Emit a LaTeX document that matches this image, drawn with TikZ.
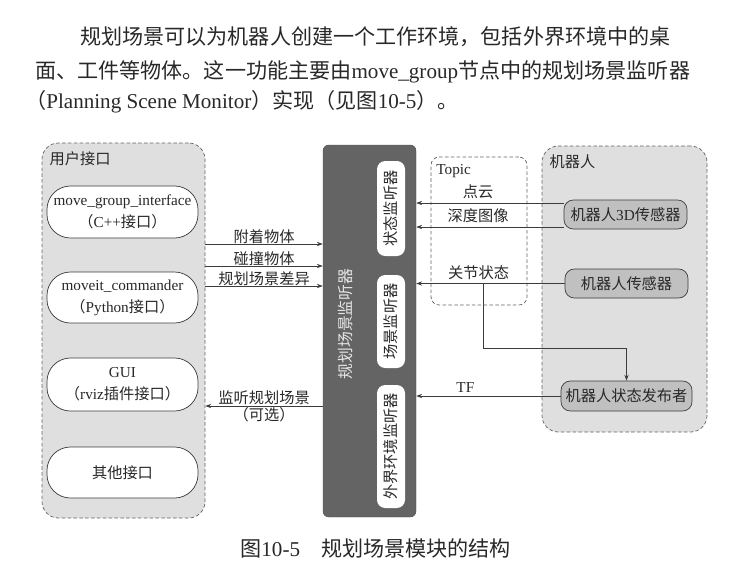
\documentclass[tikz,border=0pt]{standalone}
\usepackage{fontspec}
\setmainfont{Noto Sans CJK SC}
\newfontfamily\lat{Liberation Serif}
\usetikzlibrary{arrows.meta}
\XeTeXlinebreaklocale "zh"
\XeTeXlinebreakskip=0pt plus 3pt
\definecolor{cpanel}{RGB}{223,223,223}
\definecolor{cmon}{RGB}{100,100,100}
\definecolor{cdev}{RGB}{192,192,192}
\definecolor{cline}{RGB}{60,60,60}
\definecolor{ctext}{RGB}{40,40,40}
\newcommand{\diagfont}{\fontsize{13}{19}\selectfont}

\tikzset{
  panel/.style={draw=cline!80, dash pattern=on 3pt off 2pt, fill=cpanel,
    rounded corners=14pt, line width=0.6pt},
  iface/.style={draw=cline, fill=white, rounded corners=20pt, line width=0.6pt,
    align=center, font=\diagfont, text=ctext, inner sep=0pt, minimum width=4.53cm},
  monbox/.style={fill=white, rounded corners=7pt, rotate=90, inner sep=0pt,
    minimum height=0.84cm, font=\diagfont, text=ctext},
  devbox/.style={draw=cline, fill=cdev, rounded corners=8pt, line width=0.6pt,
    inner sep=0pt, minimum height=0.87cm, font=\diagfont, text=ctext},
  link/.style={->, cline, line width=0.6pt},
  lab/.style={font=\diagfont, text=ctext, inner sep=1pt},
  bodytext/.style={font=\fontsize{18}{22}\selectfont, text=ctext, inner sep=0pt},
}

\begin{document}
\begin{tikzpicture}[>={Stealth[length=5pt, width=3.6pt]}]
\useasboundingbox (0,0) rectangle (22.44,-17.25);
% text above the figure
\node[bodytext, anchor=west] (line1) at (2.4,-1.11)
  {\makebox[19.14cm][s]{规划场景可以为机器人创建一个工作环境，包括外界环境中的桌}};
\node[bodytext, anchor=west] (line2) at (1.05,-2.16)
  {\makebox[20.49cm][s]{面、工件等物体。这一功能主要由{\lat move\_group}节点中的规划场景监听器}};
\node[bodytext, anchor=west] (line3) at (0.75,-3.06)
  {（{\lat Planning Scene Monitor}）实现（见图{\lat 10-5}）。};

% groups
\node[panel, minimum width=4.89cm, minimum height=11.25cm] (userif) at (3.705,-9.915) {};
\node[lab, anchor=west] (userlab) at (1.45,-4.77) {用户接口};
\node[panel, minimum width=4.95cm, minimum height=8.58cm] (robot) at (18.735,-8.67) {};
\node[lab, anchor=west] (robotlab) at (16.45,-4.86) {机器人};
\node[panel, fill=white, rounded corners=7pt, minimum width=2.88cm,
  minimum height=4.44cm] (topic) at (14.37,-6.93) {};
\node[lab, anchor=west] (topiclab) at (13.05,-5.13) {\lat Topic};

% planning scene monitor
\node[fill=cmon, draw=cmon!80!black, rounded corners=5pt, minimum width=2.79cm,
  minimum height=11.16cm] (psm) at (11.085,-9.93) {};
\node[rotate=90, font=\fontsize{13.5}{16}\selectfont, text=white!80!gray]
  (psmlab) at (10.35,-9.72) {规划场景监听器};
\node[monbox, minimum width=2.85cm] (statemon) at (11.73,-6.255) {状态监听器};
\node[monbox, minimum width=2.79cm] (scenemon) at (11.73,-9.645) {场景监听器};
\node[monbox, minimum width=3.69cm] (worldmon) at (11.73,-13.395) {外界环境监听器};

% user interfaces
\node[iface, minimum height=1.56cm] (mgi) at (3.675,-6.36)
  {{\lat move\_group\_interface}\\（{\lat C++}接口）};
\node[iface, minimum height=1.53cm] (commander) at (3.675,-8.925)
  {{\lat moveit\_commander}\\（{\lat Python}接口）};
\node[iface, minimum height=1.59cm] (gui) at (3.675,-11.535)
  {{\lat GUI}\\（{\lat rviz}插件接口）};
\node[iface, minimum height=1.53cm] (other) at (3.675,-14.175) {其他接口};

% robot side
\node[devbox, minimum width=3.69cm] (sensor3d) at (18.765,-6.435) {机器人{\lat 3D}传感器};
\node[devbox, minimum width=3.69cm] (sensor) at (18.795,-8.505) {机器人传感器};
\node[devbox, minimum width=3.93cm, minimum height=0.9cm] (publisher) at (18.795,-11.88)
  {机器人状态发布者};

% interfaces -> monitor
\coordinate (yattach) at (0,-7.32);
\coordinate (ycollide) at (0,-7.98);
\coordinate (ydiff) at (0,-8.58);
\coordinate (ylisten) at (0,-12.18);
\draw[link] (userif.east |- yattach) -- (psm.west |- yattach)
  node[midway, above=-1pt, lab] {附着物体};
\draw[link] (userif.east |- ycollide) -- (psm.west |- ycollide)
  node[midway, above=-1pt, lab] {碰撞物体};
\draw[link] (userif.east |- ydiff) -- (psm.west |- ydiff)
  node[midway, above=-1pt, lab] {规划场景差异};
\draw[link] (psm.west |- ylisten) -- (userif.east |- ylisten)
  node[midway, above=0pt, lab] {监听规划场景}
  node[midway, below=0pt, lab] {（可选）};

% robot -> monitor
\coordinate (pcloud) at ([yshift=0.345cm]sensor3d.west);
\coordinate (depth) at ([yshift=-0.375cm]sensor3d.west);
\coordinate (jx) at (14.49,0);
\draw[link] (pcloud) -- (pcloud -| psm.east) node[pos=0.58, above=2pt, lab] {点云};
\draw[link] (depth) -- (depth -| psm.east) node[pos=0.58, above=2pt, lab] {深度图像};
\draw[link] (sensor.west) -- (sensor.west -| psm.east)
  node[pos=0.58, above=2pt, lab] {关节状态};
\draw[link] (sensor.west -| jx) |- ([yshift=0.96cm]publisher.north) -- (publisher.north);
\draw[link] (publisher.west) -- (publisher.west -| psm.east)
  node[pos=0.66, above=2pt, lab] {\lat TF};

% caption
\node[font=\fontsize{18}{22}\selectfont, text=ctext] (caption) at (11.27,-16.44)
  {图{\lat 10-5}\quad 规划场景模块的结构};
\end{tikzpicture}
\end{document}
